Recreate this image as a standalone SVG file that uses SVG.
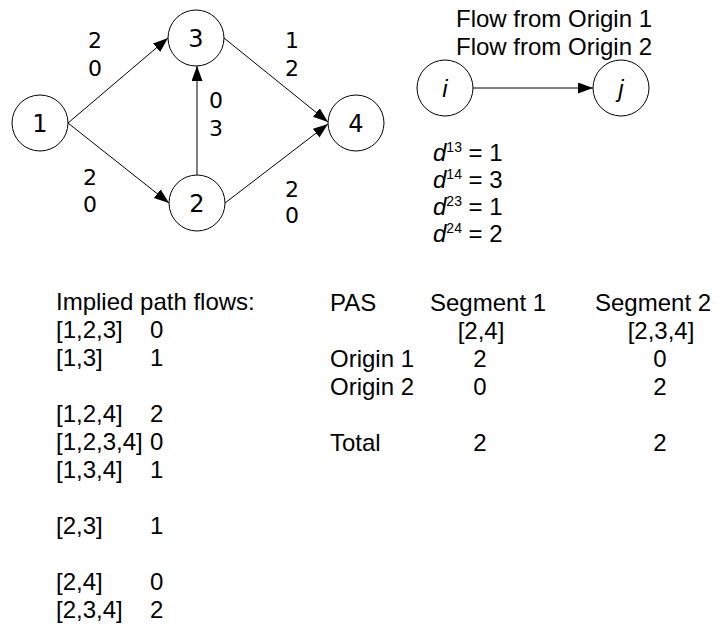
<svg xmlns="http://www.w3.org/2000/svg" width="720" height="631" viewBox="0 0 720 631">
<defs>
<marker id="ah" markerUnits="userSpaceOnUse" markerWidth="16" markerHeight="12" refX="15" refY="5.5" orient="auto">
<path d="M0,0 L15,5.5 L0,11 z" fill="#000"/>
</marker>
<style>
.nd{fill:#fff;stroke:#000;stroke-width:1}
.nl{font-family:"DejaVu Sans",sans-serif;font-size:24px;text-anchor:middle;fill:#000}
.el{font-family:"DejaVu Sans",sans-serif;font-size:22px;text-anchor:middle;fill:#000}
.t{font-family:"Liberation Sans",Arial,sans-serif;font-size:24px;fill:#000}
.c{text-anchor:middle}
.it{font-style:italic}
.cn{stroke:#000;stroke-width:1;fill:none;marker-end:url(#ah)}
</style>
</defs>
<rect width="720" height="631" fill="#fff"/>
<g id="connectors">
<line class="cn" x1="68" y1="123" x2="168" y2="38"/>
<line class="cn" x1="68" y1="123" x2="169" y2="203"/>
<line class="cn" x1="197" y1="175" x2="197" y2="66"/>
<line class="cn" x1="224" y1="38" x2="328" y2="122"/>
<line class="cn" x1="225" y1="203" x2="328" y2="124"/>
<line class="cn" x1="473" y1="88" x2="593" y2="88"/>
</g>
<g id="edge-labels">
<text class="el" x="95" y="48">2</text><text class="el" x="95" y="76">0</text>
<text class="el" x="90" y="185">2</text><text class="el" x="90" y="212">0</text>
<text class="el" x="216" y="108">0</text><text class="el" x="216" y="136">3</text>
<text class="el" x="292" y="48">1</text><text class="el" x="292" y="76">2</text>
<text class="el" x="292" y="197">2</text><text class="el" x="292" y="223">0</text>
</g>
<g id="node1"><circle class="nd" cx="40" cy="123" r="28"/><text class="nl" x="40" y="132">1</text></g>
<g id="node3"><circle class="nd" cx="196" cy="38" r="28"/><text class="nl" x="196" y="47">3</text></g>
<g id="node2"><circle class="nd" cx="197" cy="203" r="28"/><text class="nl" x="197" y="212">2</text></g>
<g id="node4"><circle class="nd" cx="356" cy="123" r="28"/><text class="nl" x="356" y="132">4</text></g>
<g id="legend">
<text class="t c" x="554" y="27">Flow from Origin 1</text>
<text class="t c" x="554" y="55">Flow from Origin 2</text>
<g id="node-i"><circle class="nd" cx="445" cy="88" r="28"/><text class="t c it" x="445" y="97">i</text></g>
<g id="node-j"><circle class="nd" cx="621" cy="88" r="28"/><text class="t c it" x="621" y="97">j</text></g>
<text class="t" x="433" y="161"><tspan class="it">d</tspan><tspan font-size="14" dy="-9">13</tspan><tspan dy="9"> = 1</tspan></text>
<text class="t" x="433" y="188"><tspan class="it">d</tspan><tspan font-size="14" dy="-9">14</tspan><tspan dy="9"> = 3</tspan></text>
<text class="t" x="433" y="215"><tspan class="it">d</tspan><tspan font-size="14" dy="-9">23</tspan><tspan dy="9"> = 1</tspan></text>
<text class="t" x="433" y="242"><tspan class="it">d</tspan><tspan font-size="14" dy="-9">24</tspan><tspan dy="9"> = 2</tspan></text>
</g>
<g id="path-flows">
<text class="t" x="56" y="310">Implied path flows:</text>
<text class="t" x="56" y="338">[1,2,3]</text><text class="t" x="150" y="338">0</text>
<text class="t" x="56" y="366">[1,3]</text><text class="t" x="150" y="366">1</text>
<text class="t" x="56" y="422">[1,2,4]</text><text class="t" x="150" y="422">2</text>
<text class="t" x="56" y="450">[1,2,3,4]</text><text class="t" x="150" y="450">0</text>
<text class="t" x="56" y="478">[1,3,4]</text><text class="t" x="150" y="478">1</text>
<text class="t" x="56" y="534">[2,3]</text><text class="t" x="150" y="534">1</text>
<text class="t" x="56" y="590">[2,4]</text><text class="t" x="150" y="590">0</text>
<text class="t" x="56" y="618">[2,3,4]</text><text class="t" x="150" y="618">2</text>
</g>
<g id="pas-table">
<text class="t" x="330" y="311">PAS</text>
<text class="t" x="430" y="311">Segment 1</text>
<text class="t" x="595" y="311">Segment 2</text>
<text class="t c" x="481" y="339">[2,4]</text>
<text class="t c" x="661" y="339">[2,3,4]</text>
<text class="t" x="330" y="367">Origin 1</text><text class="t c" x="480" y="367">2</text><text class="t c" x="660" y="367">0</text>
<text class="t" x="330" y="395">Origin 2</text><text class="t c" x="480" y="395">0</text><text class="t c" x="660" y="395">2</text>
<text class="t" x="330" y="451">Total</text><text class="t c" x="480" y="451">2</text><text class="t c" x="660" y="451">2</text>
</g>
</svg>
